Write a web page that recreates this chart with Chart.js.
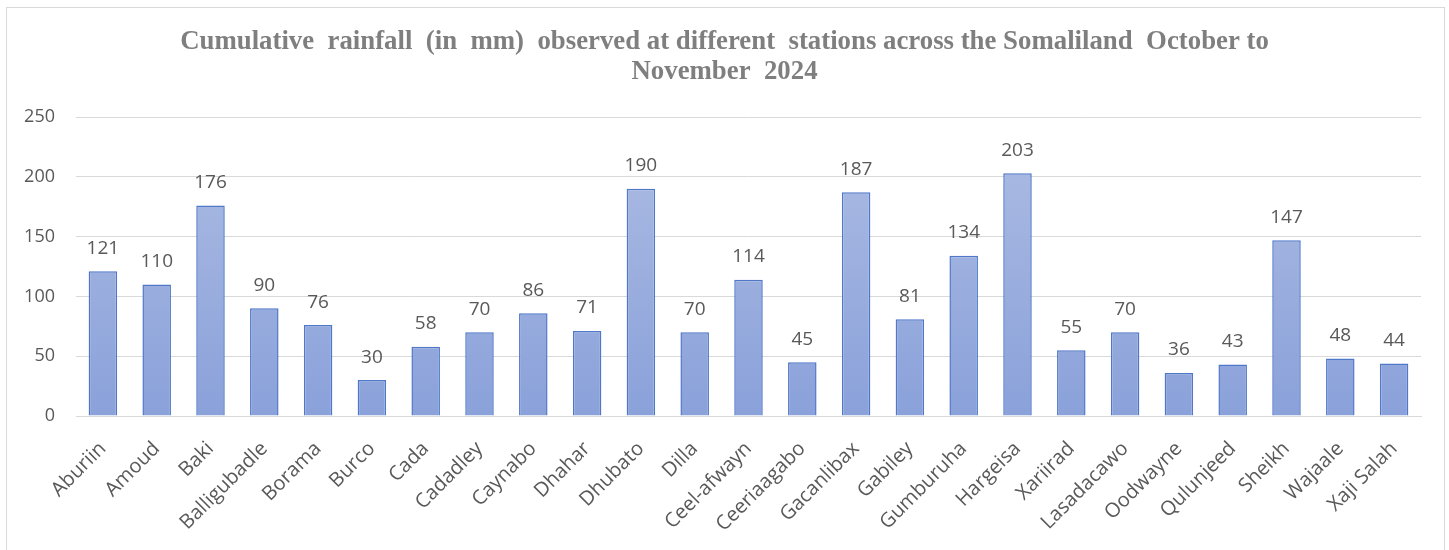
<!DOCTYPE html>
<html>
<head>
<meta charset="utf-8">
<script src="https://cdn.jsdelivr.net/npm/chart.js@4.4.1/dist/chart.umd.min.js"></script>
<style>
  html, body { margin: 0; padding: 0; background: #ffffff; }
  #wrap { position: relative; width: 1449px; height: 550px; overflow: hidden; }
  #frame { position: absolute; left: 6px; top: 7px; width: 1439px; height: 560px; border: 1px solid #d9d9d9; box-sizing: border-box; }
  canvas { position: absolute; left: 0; top: 0; }
</style>
</head>
<body>
<div id="wrap">
  <div id="frame"></div>
  <canvas id="c" width="1449" height="550"></canvas>
</div>
<script>
const titleLines = [
  "Cumulative  rainfall  (in  mm)  observed at different  stations across the Somaliland  October to",
  "November  2024"
];
const stations = ["Aburiin","Amoud","Baki","Balligubadle","Borama","Burco","Cada","Cadadley","Caynabo","Dhahar","Dhubato","Dilla","Ceel-afwayn","Ceeriaagabo","Gacanlibax","Gabiley","Gumburuha","Hargeisa","Xariirad","Lasadacawo","Oodwayne","Qulunjeed","Sheikh","Wajaale","Xaji Salah"];
const rainfall = [121,110,176,90,76,30,58,70,86,71,190,70,114,45,187,81,134,203,55,70,36,43,147,48,44];
const yTicks = [0,50,100,150,200,250];

const dataLabels = {
  id: 'dataLabels',
  afterDatasetsDraw(chart) {
    const ctx = chart.ctx;
    const meta = chart.getDatasetMeta(0);
    ctx.save();
    ctx.font = '19px "Open Sans"';
    ctx.fillStyle = '#595959';
    ctx.textAlign = 'center';
    ctx.textBaseline = 'middle';
    meta.data.forEach((bar, i) => {
      ctx.fillText(String(rainfall[i]), bar.x, bar.y - 23);
    });
    ctx.restore();
  }
};

const shiftTitle = {
  id: 'shiftTitle',
  afterLayout(chart) {
    const t = chart.titleBlock;
    if (t) { t.left += 14; t.right += 14; }
  }
};

const ctx = document.getElementById('c').getContext('2d');
new Chart(ctx, {
  type: 'bar',
  data: {
    labels: stations,
    datasets: [{
      data: rainfall,
      backgroundColor: (context) => {
        const chart = context.chart;
        const area = chart.chartArea;
        if (!area) return '#98ade0';
        const g = chart.ctx.createLinearGradient(0, area.top, 0, area.bottom);
        g.addColorStop(0, '#aebde3');
        g.addColorStop(1, '#8aa1da');
        return g;
      },
      borderColor: '#4f78c8',
      borderWidth: 1.5,
      barPercentage: 0.53,
      categoryPercentage: 1.0
    }]
  },
  options: {
    responsive: false,
    animation: false,
    devicePixelRatio: 1,
    layout: { padding: { left: 0, right: 28, top: 0, bottom: 0 } },
    plugins: {
      legend: { display: false },
      tooltip: { enabled: false },
      title: {
        display: true,
        text: titleLines,
        color: '#7f7f7f',
        font: { family: '"Liberation Serif"', size: 26.8, weight: 'bold', lineHeight: 1.12 },
        padding: { top: 27, bottom: 30 }
      }
    },
    scales: {
      x: {
        grid: { display: false },
        border: { display: true, color: '#d9d9d9', width: 1 },
        ticks: {
          color: '#595959',
          font: { family: '"Open Sans"', size: 20 },
          minRotation: 45,
          maxRotation: 45,
          autoSkip: false,
          padding: 13
        },
        afterFit(scale) { scale.height = 134; }
      },
      y: {
        min: 0,
        max: 250,
        afterBuildTicks(scale) { scale.ticks = yTicks.map(v => ({ value: v })); },
        grid: { color: '#d9d9d9', drawTicks: false },
        border: { display: false },
        ticks: {
          color: '#595959',
          font: { family: '"Open Sans"', size: 18 },
          padding: 21
        },
        afterFit(scale) { scale.width = 76; }
      }
    }
  },
  plugins: [dataLabels, shiftTitle]
});
</script>
</body>
</html>
